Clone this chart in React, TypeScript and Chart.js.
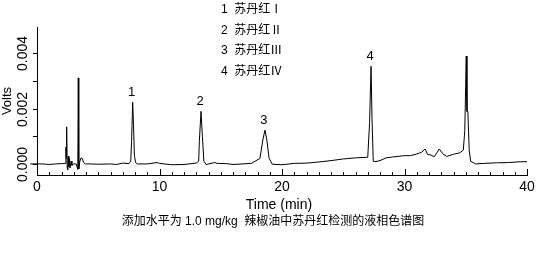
import React, { useEffect, useRef } from "react";
import { Chart, registerables } from "chart.js";

Chart.register(...registerables);

// Retention time (min) and detector signal (V) (rows aligned)
const TIME = [
  -0.55, 0.0, 0.5, 1.0, 1.5, 2.0, 2.3, 2.36,
  2.38, 2.42, 2.46, 2.5, 2.55, 2.6, 2.65, 2.7,
  2.78, 2.85, 3.0, 3.2, 3.33, 3.37, 3.41, 3.5,
  3.6, 3.7, 3.8, 3.95, 4.3, 5.0, 6.0, 6.5,
  7.0, 7.5, 7.65, 7.72, 7.81, 7.88, 7.95, 8.05,
  8.2, 9.0, 9.8, 10.0, 11.0, 12.0, 13.0, 13.2,
  13.25, 13.39, 13.5, 13.62, 13.8, 14.5, 14.7, 15.5,
  16.0, 17.5, 18.2, 18.45, 18.61, 18.75, 18.95, 19.2,
  20.0, 21.0, 22.0, 23.0, 24.0, 25.0, 26.0, 27.0,
  27.15, 27.27, 27.35, 27.45, 27.6, 28.0, 28.5, 29.0,
  30.0, 30.5, 31.0, 31.4, 31.67, 31.9, 32.1, 32.43,
  32.84, 33.1, 33.44, 34.0, 34.5, 34.8, 34.92, 35.04,
  35.1, 35.17, 35.22, 35.28, 35.4, 35.8, 36.5, 37.5,
  38.5, 39.5, 40.0,
];
const VOLTS = [
  0.0, 0.0, 0.0, -0.00002, 0.0, 0.00001, 0.00002, 0.0006,
  0.0002, 0.00134, -0.0001, -0.00022, 0.00028, -0.0001, 0.0002, -0.00015,
  0.0001, -0.00005, 0.0, 0.0, -0.0002, 0.00311, -0.00018, 0.0001,
  0.00022, 0.0002, 0.00005, 0.0, 0.0, -0.00001, 0.0, -0.00002,
  0.00003, 0.00001, 0.0001, 0.0008, 0.00223, 0.0014, 0.0003, 0.00005,
  0.0, 0.0, 0.00005, 0.00002, -0.00003, -0.00002, 0.00003, 0.0001,
  0.0008, 0.0019, 0.001, 0.0001, -0.00002, 0.00005, 0.00002, 0.00001,
  -0.00002, 0.00002, 0.0002, 0.0009, 0.00122, 0.0009, 0.0002, -0.00001,
  -0.00003, 0.00002, 0.00003, 0.00007, 0.00012, 0.00018, 0.00022, 0.00024,
  0.0015, 0.00353, 0.0016, 0.0001, 0.00008, 0.00012, 0.00022, 0.00025,
  0.0003, 0.0003, 0.00036, 0.00042, 0.00054, 0.00034, 0.00033, 0.00026,
  0.00054, 0.00038, 0.00027, 0.00035, 0.0004, 0.0005, 0.0012, 0.0039,
  0.0019, 0.0019, 0.0013, 0.0005, 0.0001, 0.0, 0.00002, 0.00004,
  0.00005, 0.00008, 0.00008,
];

const X_MIN = 0;
const X_MAX = 40;
const X_STEP = 1;
const X_LABEL_EVERY = 10;
const Y_MIN = -0.0004;
const Y_MAX = 0.00495;
const Y_STEP = 0.001;
const Y_LABEL_EVERY = 0.002;

const PEAK_NAMES = ["1", "2", "3", "4"];
const PEAK_TIMES = [7.81, 13.39, 18.61, 27.27];

const COMPOUNDS = ["1  苏丹红Ⅰ", "2  苏丹红Ⅱ", "3  苏丹红Ⅲ", "4  苏丹红Ⅳ"];
const X_TITLE = "Time (min)";
const Y_TITLE = "Volts";
const CAPTION = "添加水平为 1.0 mg/kg  辣椒油中苏丹红检测的液相色谱图";

const LATIN = "'Liberation Sans Narrow', 'Liberation Sans', Arial, sans-serif";
const CJK = "'Liberation Sans', 'Noto Sans CJK SC', sans-serif";

const isMultiple = (v: number, step: number) => Math.abs(v / step - Math.round(v / step)) < 1e-6;

const overlay = {
  id: "overlay",
  afterDraw(chart: any) {
    const ctx = chart.ctx as CanvasRenderingContext2D;
    const xs = chart.scales.x;
    const ys = chart.scales.y;
    ctx.save();
    ctx.strokeStyle = "#000";
    ctx.fillStyle = "#000";
    ctx.lineWidth = 1;
    // x tick marks (inward)
    xs.ticks.forEach((t: any) => {
      if (!isMultiple(t.value, X_STEP)) return;
      const px = Math.round(xs.getPixelForValue(t.value)) + 0.5;
      const len = isMultiple(t.value, X_LABEL_EVERY) ? 6 : 3;
      ctx.beginPath();
      ctx.moveTo(px, xs.top);
      ctx.lineTo(px, xs.top - len);
      ctx.stroke();
    });
    // y tick marks (outward) and rotated labels
    ys.ticks.forEach((t: any) => {
      if (t.value < -1e-9 || !isMultiple(t.value, Y_STEP)) return;
      const py = Math.round(ys.getPixelForValue(t.value)) + 0.5;
      ctx.beginPath();
      ctx.moveTo(ys.right, py);
      ctx.lineTo(ys.right - 4, py);
      ctx.stroke();
      if (isMultiple(t.value, Y_LABEL_EVERY)) {
        ctx.save();
        ctx.translate(23, py);
        ctx.rotate(-Math.PI / 2);
        ctx.font = `14px ${LATIN}`;
        ctx.textAlign = "center";
        ctx.textBaseline = "middle";
        ctx.fillText(Math.abs(t.value).toFixed(3), 0, 0);
        ctx.restore();
      }
    });
    // y title
    ctx.save();
    ctx.translate(7, (ys.top + ys.bottom) / 2);
    ctx.rotate(-Math.PI / 2);
    ctx.font = `13px ${LATIN}`;
    ctx.textAlign = "center";
    ctx.textBaseline = "middle";
    ctx.fillText(Y_TITLE, 0, 0);
    ctx.restore();
    // x title and caption
    ctx.textAlign = "center";
    ctx.textBaseline = "middle";
    ctx.font = `14px ${LATIN}`;
    ctx.fillText(X_TITLE, 279, 205);
    ctx.font = `12px ${CJK}`;
    ctx.fillText(CAPTION, 273, 222);
    // peak numbers
    ctx.font = `13px ${LATIN}`;
    PEAK_NAMES.forEach((name, i) => {
      const idx = TIME.indexOf(PEAK_TIMES[i]);
      const px = xs.getPixelForValue(TIME[idx]);
      const py = ys.getPixelForValue(VOLTS[idx]);
      ctx.fillText(name, px - 1, py - 10);
    });
    // compound list
    ctx.textAlign = "left";
    ctx.font = `12px ${CJK}`;
    COMPOUNDS.forEach((txt, i) => {
      ctx.fillText(txt, 221, 10 + i * 20.5);
    });
    ctx.restore();
  },
};

export default function App() {
  const ref = useRef<HTMLCanvasElement | null>(null);
  useEffect(() => {
    if (!ref.current) return;
    const chart = new Chart(ref.current, {
      type: "line",
      data: {
        datasets: [
          {
            data: TIME.map((t, i) => ({ x: t, y: VOLTS[i] })),
            borderColor: "#000",
            borderWidth: 1,
            pointRadius: 0,
            tension: 0,
            fill: false,
            clip: { left: 8, top: 0, right: 2, bottom: 0 } as any,
          },
        ],
      },
      options: {
        animation: false,
        responsive: false,
        devicePixelRatio: 1,
        events: [],
        layout: { padding: { top: 27, right: 17, left: 0, bottom: 0 } },
        plugins: { legend: { display: false }, tooltip: { enabled: false }, title: { display: false } },
        scales: {
          x: {
            type: "linear",
            min: X_MIN,
            max: X_MAX,
            afterFit: (s: any) => {
              s.height = 80;
            },
            grid: { display: false, drawTicks: false },
            border: { display: true, color: "#000", width: 1 },
            ticks: {
              stepSize: X_STEP,
              autoSkip: false,
              maxTicksLimit: 100,
              maxRotation: 0,
              minRotation: 0,
              padding: 4,
              color: "#000",
              font: { family: LATIN, size: 14 },
              callback: (v: any) => (isMultiple(Number(v), X_LABEL_EVERY) ? String(v) : ""),
            },
          },
          y: {
            type: "linear",
            min: Y_MIN,
            max: Y_MAX,
            afterFit: (s: any) => {
              s.width = 37;
            },
            grid: { display: false, drawTicks: false },
            border: { display: true, color: "#000", width: 1 },
            ticks: { stepSize: Y_STEP, display: false, maxTicksLimit: 100, includeBounds: false },
          },
        },
      },
      plugins: [overlay],
    });
    return () => chart.destroy();
  }, []);
  return (
    <div style={{ position: "absolute", left: 0, top: 0, width: 544, height: 255, background: "#fff" }}>
      <canvas ref={ref} width={544} height={255} />
    </div>
  );
}
